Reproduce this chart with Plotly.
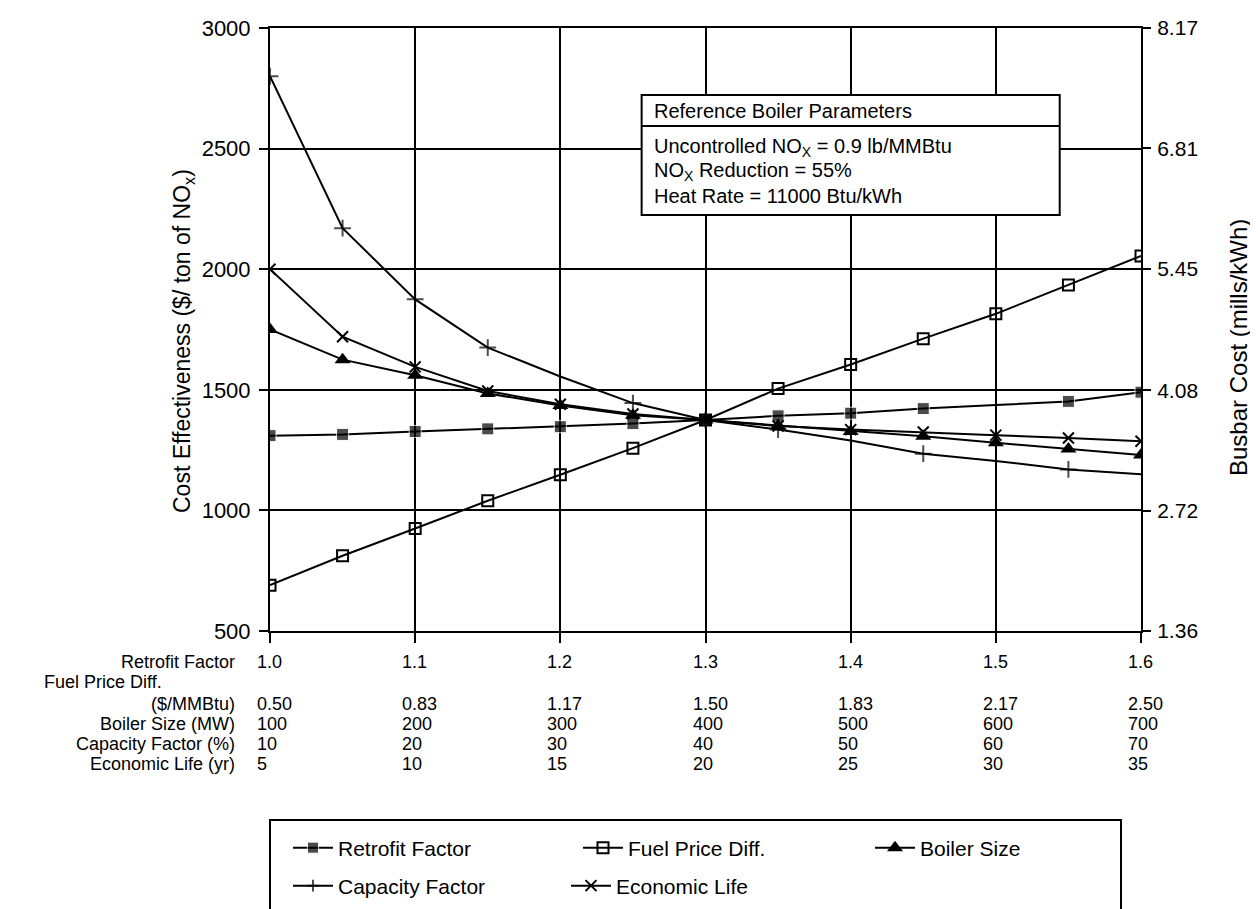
import plotly.graph_objects as go

# ---------------- data ----------------
x_vals = [1.0, 1.05, 1.1, 1.15, 1.2, 1.25, 1.3, 1.35, 1.4, 1.45, 1.5, 1.55, 1.6]
retrofit_factor = [1310, 1315, 1327, 1338, 1347, 1360, 1375, 1392, 1403, 1422, 1437, 1452, 1490]
fuel_price_diff = [690, 812, 925, 1040, 1148, 1258, 1375, 1505, 1605, 1712, 1815, 1935, 2055]
boiler_size = [1750, 1625, 1560, 1485, 1435, 1395, 1375, 1352, 1327, 1307, 1280, 1255, 1230]
capacity_factor = [2800, 2170, 1875, 1675, 1555, 1445, 1375, 1335, 1290, 1235, 1205, 1170, 1150]
economic_life = [2000, 1720, 1595, 1495, 1440, 1400, 1375, 1350, 1335, 1325, 1312, 1300, 1287]

tick_x = [1.0, 1.1, 1.2, 1.3, 1.4, 1.5, 1.6]
retrofit_ticks = ["1.0", "1.1", "1.2", "1.3", "1.4", "1.5", "1.6"]
fuel_ticks = ["0.50", "0.83", "1.17", "1.50", "1.83", "2.17", "2.50"]
boiler_ticks = ["100", "200", "300", "400", "500", "600", "700"]
capacity_ticks = ["10", "20", "30", "40", "50", "60", "70"]
life_ticks = ["5", "10", "15", "20", "25", "30", "35"]

left_ticks = [500, 1000, 1500, 2000, 2500, 3000]
right_ticks = [1.36, 2.72, 4.08, 5.45, 6.81, 8.17]

FONT = "Liberation Sans, Arial, Helvetica, sans-serif"
FS = 21      # legend text
BFS = 20     # parameter box text
TFS = 18     # table text under the x axis
W, H = 1258, 909
L, R, T, B = 262, 125, 20, 286
PW, PH = W - L - R, H - T - B


def py2paper(py):
    return (H - B - py) / PH


def px2paper(px):
    return (px - L) / PW


fig = go.Figure()

line = dict(color="black", width=2)
# markers hidden where the original shows none
cap_hidden = {4, 8, 10, 12}
ret_hidden = {10}
cap_sizes = [0 if i in cap_hidden else 12 for i in range(len(x_vals))]
ret_sizes = [0 if i in ret_hidden else 12 for i in range(len(x_vals))]

fig.add_trace(go.Scatter(x=x_vals, y=retrofit_factor, name="Retrofit Factor", mode="lines+markers",
                         line=line, marker=dict(symbol="square", size=ret_sizes, color="black"),
                         legend="legend"))
fig.add_trace(go.Scatter(x=x_vals, y=fuel_price_diff, name="Fuel Price Diff.", mode="lines+markers",
                         line=line, marker=dict(symbol="square-open", size=11, color="black",
                                                line=dict(width=2, color="black")),
                         legend="legend"))
fig.add_trace(go.Scatter(x=x_vals, y=boiler_size, name="Boiler Size", mode="lines+markers",
                         line=line, marker=dict(symbol="triangle-up", size=14, color="black"),
                         legend="legend3"))
fig.add_trace(go.Scatter(x=x_vals, y=capacity_factor, name="Capacity Factor", mode="lines+markers",
                         line=line, marker=dict(symbol="cross-thin-open", size=cap_sizes, color="black",
                                                line=dict(width=2, color="black")),
                         legend="legend2"))
fig.add_trace(go.Scatter(x=x_vals, y=economic_life, name="Economic Life", mode="lines+markers",
                         line=line, marker=dict(symbol="x-thin-open", size=11, color="black",
                                                line=dict(width=2, color="black")),
                         legend="legend2"))
# empty trace so the right (busbar cost) axis is drawn
fig.add_trace(go.Scatter(x=[], y=[], yaxis="y2", showlegend=False, hoverinfo="skip"))

leg_common = dict(orientation="h", xanchor="left", yanchor="middle",
                  bgcolor="rgba(0,0,0,0)", borderwidth=0, font=dict(size=FS),
                  itemwidth=40, entrywidthmode="pixels", itemclick=False)

fig.update_layout(
    width=W, height=H,
    margin=dict(l=L, r=R, t=T, b=B, autoexpand=False),
    paper_bgcolor="white", plot_bgcolor="white",
    font=dict(family=FONT, size=FS, color="black"),
    xaxis=dict(range=[1.0, 1.6], tickvals=tick_x, showticklabels=False,
               showgrid=True, gridcolor="black", gridwidth=2,
               showline=True, linecolor="black", linewidth=2, mirror=True,
               ticks="outside", ticklen=10, tickwidth=2, tickcolor="black", zeroline=False),
    yaxis=dict(range=[500, 3000], tickvals=left_ticks,
               showgrid=True, gridcolor="black", gridwidth=2,
               showline=True, linecolor="black", linewidth=2, mirror=True,
               ticks="outside", ticklen=9, tickwidth=2, tickcolor="black",
               ticklabelstandoff=4, zeroline=False, tickfont=dict(size=22)),
    yaxis2=dict(range=[1.36, 8.17], tickvals=right_ticks, ticktext=[f"{v:.2f}" for v in right_ticks],
                overlaying="y", side="right", anchor="x",
                showgrid=False, showline=True, linecolor="black", linewidth=2,
                ticks="outside", ticklen=8, tickwidth=2, tickcolor="black", zeroline=False,
                tickfont=dict(size=21), ticklabelstandoff=2),
    legend=dict(x=px2paper(280), y=py2paper(840), entrywidth=235, **leg_common),
    legend3=dict(x=px2paper(862), y=py2paper(840), entrywidth=150, **leg_common),
    legend2=dict(x=px2paper(280), y=py2paper(878), entrywidth=223, **leg_common),
    showlegend=True,
)

shapes = []
# legend frame
shapes.append(dict(type="rect", xref="paper", yref="paper",
                   x0=px2paper(262), x1=px2paper(1113), y0=py2paper(906), y1=py2paper(812),
                   line=dict(color="black", width=2), fillcolor="rgba(0,0,0,0)", layer="above"))
# reference boiler parameters box
shapes.append(dict(type="rect", xref="x", yref="paper",
                   x0=1.256, x1=1.544, y0=py2paper(207), y1=py2paper(87),
                   line=dict(color="black", width=2), fillcolor="white", layer="above"))
shapes.append(dict(type="line", xref="x", yref="paper",
                   x0=1.256, x1=1.544, y0=py2paper(118), y1=py2paper(118),
                   line=dict(color="black", width=2), layer="above"))
fig.update_layout(shapes=shapes)

ann = []
box_lines = [("Reference Boiler Parameters", 103),
             ("Uncontrolled NO<sub>X</sub> = 0.9 lb/MMBtu", 139),
             ("NO<sub>X</sub> Reduction = 55%", 163),
             ("Heat Rate = 11000 Btu/kWh", 188)]
for txt, py in box_lines:
    ann.append(dict(text=txt, xref="x", yref="paper", x=1.263, y=py2paper(py),
                    xanchor="left", yanchor="middle", showarrow=False, font=dict(size=BFS)))

# axis titles
ann.append(dict(text="Cost Effectiveness ($/ ton of NO<sub>x</sub>)", xref="paper", yref="paper",
                x=px2paper(175), y=py2paper(333), textangle=-90, showarrow=False,
                xanchor="center", yanchor="middle", font=dict(size=23)))
ann.append(dict(text="Busbar Cost (mills/kWh)", xref="paper", yref="paper",
                x=px2paper(1230), y=py2paper(340), textangle=-90, showarrow=False,
                xanchor="center", yanchor="middle", font=dict(size=24)))

# x-axis table (rows tightly packed, as in the original)
row_labels = [("Retrofit Factor", 654, "right", 229),
              ("Fuel Price Diff.", 674, "left", 34),
              ("($/MMBtu)", 696, "right", 229),
              ("Boiler Size (MW)", 716, "right", 229),
              ("Capacity Factor (%)", 736, "right", 229),
              ("Economic Life (yr)", 756, "right", 229)]
for txt, py, anchor, px in row_labels:
    ann.append(dict(text=txt, xref="paper", yref="paper", x=px2paper(px), y=py2paper(py),
                    xanchor=anchor, yanchor="middle", showarrow=False, font=dict(size=TFS)))

value_rows = [(retrofit_ticks, 654), (fuel_ticks, 696), (boiler_ticks, 716),
              (capacity_ticks, 736), (life_ticks, 756)]
for labels, py in value_rows:
    for xv, lab in zip(tick_x, labels):
        ann.append(dict(text=lab, xref="x", yref="paper", x=xv, y=py2paper(py), xshift=-15,
                        xanchor="left", yanchor="middle", showarrow=False, font=dict(size=TFS)))

fig.update_layout(annotations=ann)

fig.write_html("out.html")
